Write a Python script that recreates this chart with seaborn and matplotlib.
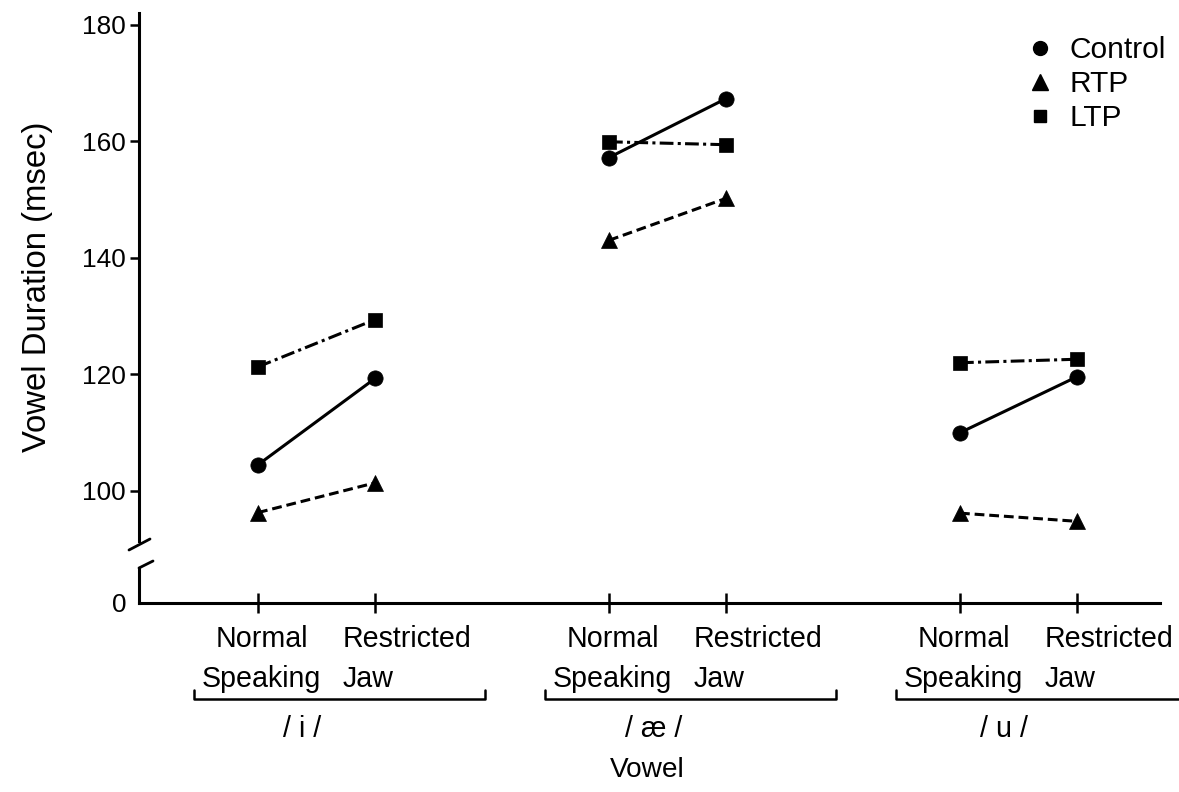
import numpy as np
import pandas as pd
import matplotlib
matplotlib.use("Agg")
import matplotlib.pyplot as plt
from matplotlib.lines import Line2D
from matplotlib import transforms, font_manager
import seaborn as sns

# ---------------- data ----------------
vowels = ["/i/", "/æ/", "/u/"]
vowel_labels = ["/ i /", "/ æ /", "/ u /"]
conditions = ["Normal Speaking", "Restricted Jaw"]
groups = ["Control", "RTP", "LTP"]
# order: /i/ normal, /i/ restricted, /æ/ normal, /æ/ restricted, /u/ normal, /u/ restricted
control = [104.5, 119.3, 157.2, 167.3, 110.0, 119.6]
rtp = [96.3, 101.4, 143.0, 150.2, 96.2, 94.8]
ltp = [121.3, 129.4, 159.9, 159.4, 122.0, 122.6]
y_ticks = [100, 120, 140, 160, 180]

# ---------------- style ----------------
sns.set_style("white")
names = {f.name for f in font_manager.fontManager.ttflist}
if "Liberation Sans Narrow" in names:
    FAM, SC = "Liberation Sans Narrow", 1.0
elif "Liberation Sans" in names:
    FAM, SC = "Liberation Sans", 0.86
else:
    FAM, SC = "DejaVu Sans", 0.8
plt.rcParams["font.family"] = [FAM, "DejaVu Sans"]
plt.rcParams["text.color"] = "black"

FS_NUM = 22 * SC
FS_CAT = 24 * SC
FS_LEG = 25 * SC
FS_YLAB = 27.5 * SC
FS_XLAB = 23.5 * SC

W, H = 1179, 792
fig = plt.figure(figsize=(W / 100, H / 100), dpi=100)


def fx(px):
    return px / W


def fy(py):
    return 1 - py / H


SPINE_X, RIGHT, TOP, UP_BOT, LOW_TOP, BASE = 139, 1160, 13, 541, 568, 603
PXU_X, X0_PX = 117.0, 258.0
PXU_Y, Y100_PX = 5.83, 491.0
xlim = ((SPINE_X - X0_PX) / PXU_X, (RIGHT - X0_PX) / PXU_X)
ylim_up = (100 - (UP_BOT - Y100_PX) / PXU_Y, 100 + (Y100_PX - TOP) / PXU_Y)

ax = fig.add_axes([fx(SPINE_X), fy(UP_BOT), fx(RIGHT) - fx(SPINE_X), fy(TOP) - fy(UP_BOT)])
ax2 = fig.add_axes([fx(SPINE_X), fy(BASE), fx(RIGHT) - fx(SPINE_X), fy(LOW_TOP) - fy(BASE)])
for a in (ax, ax2):
    a.set_facecolor("none")

rows = []
for g, vals in zip(groups, [control, rtp, ltp]):
    for k, v in enumerate(vals):
        vi, ci = divmod(k, 2)
        rows.append(dict(group=g, vowel=vowels[vi], condition=conditions[ci],
                         pos=vi * 3 + ci, duration=v))
df = pd.DataFrame(rows)

markers = {"Control": "o", "RTP": "^", "LTP": "s"}
msize = {"Control": 11, "RTP": 12, "LTP": 10}
lstyles = {"Control": "-", "RTP": (0, (3.2, 1.6)), "LTP": (0, (4.5, 1.4, 1.0, 1.4))}

for g in groups:
    sns.lineplot(data=df[df["group"] == g], x="pos", y="duration", units="vowel",
                 estimator=None, sort=False, color="black", marker=markers[g],
                 markersize=msize[g], linestyle=lstyles[g], linewidth=2.2,
                 markeredgecolor="black", markeredgewidth=0.5, ax=ax, legend=False)

# upper axes
ax.set_xlim(xlim)
ax.set_ylim(ylim_up)
for s in ["top", "right", "bottom"]:
    ax.spines[s].set_visible(False)
ax.spines["left"].set_linewidth(2.2)
ax.spines["left"].set_color("black")
ax.set_xticks([])
ax.set_yticks(y_ticks)
ax.set_yticklabels([str(t) for t in y_ticks], fontsize=FS_NUM)
ax.tick_params(axis="y", direction="out", length=6.5, width=1.8, pad=3, colors="black", left=True)
ax.set_xlabel("")
ax.set_ylabel("")

# lower axes (below the break)
positions = [vi * 3 + ci for vi in range(3) for ci in range(2)]
ax2.set_xlim(xlim)
ax2.set_ylim(0, 6)
for s in ["top", "right"]:
    ax2.spines[s].set_visible(False)
for s in ["left", "bottom"]:
    ax2.spines[s].set_linewidth(2.2)
    ax2.spines[s].set_color("black")
ax2.set_xticks(positions)
ax2.set_xticklabels([""] * len(positions))
ax2.tick_params(axis="x", direction="inout", length=14, width=1.8, colors="black", bottom=True)
ax2.set_yticks([0])
ax2.set_yticklabels(["0"], fontsize=FS_NUM)
ax2.tick_params(axis="y", length=0, pad=9, colors="black")

# break marks
fig.add_artist(Line2D([fx(129), fx(150)], [fy(550), fy(539)], color="black", lw=2))
fig.add_artist(Line2D([fx(SPINE_X), fx(153)], [fy(568), fy(561)], color="black", lw=2))

# category labels and brackets
trans = transforms.blended_transform_factory(ax2.transData, fig.transFigure)
right_ext = [1.94, 1.94, 2.2]
for vi in range(3):
    p0 = vi * 3
    ax2.text(p0 + 0.03, fy(647), "Normal", ha="center", va="baseline", fontsize=FS_CAT, transform=trans)
    ax2.text(p0 + 0.03, fy(687), "Speaking", ha="center", va="baseline", fontsize=FS_CAT, transform=trans)
    ax2.text(p0 + 1 - 0.28, fy(647), "Restricted", ha="left", va="baseline", fontsize=FS_CAT, transform=trans)
    ax2.text(p0 + 1 - 0.28, fy(687), "Jaw", ha="left", va="baseline", fontsize=FS_CAT, transform=trans)
    fig.add_artist(Line2D([p0 - 0.55, p0 - 0.55, p0 + right_ext[vi], p0 + right_ext[vi]],
                          [fy(690), fy(699), fy(699), fy(690)],
                          transform=trans, color="black", lw=1.8))
    ax2.text(p0 + 0.38, fy(737), vowel_labels[vi], ha="center", va="baseline", fontsize=FS_CAT, transform=trans)

fig.text(fx(647), fy(777), "Vowel", ha="center", va="baseline", fontsize=FS_XLAB)
fig.text(fx(38), fy(287), "Vowel Duration (msec)", rotation=90, ha="center", va="center", fontsize=FS_YLAB)

# legend
handles = [Line2D([], [], linestyle="none", marker=markers[g], color="black",
                  markersize=msize[g] - 1) for g in groups]
fig.legend(handles, groups, loc="center left", bbox_to_anchor=(fx(1025), fy(84)),
           frameon=False, fontsize=FS_LEG, labelspacing=0.2, handlelength=1.0,
           handletextpad=0.5, borderpad=0, borderaxespad=0)

fig.savefig("out.png", dpi=100)
